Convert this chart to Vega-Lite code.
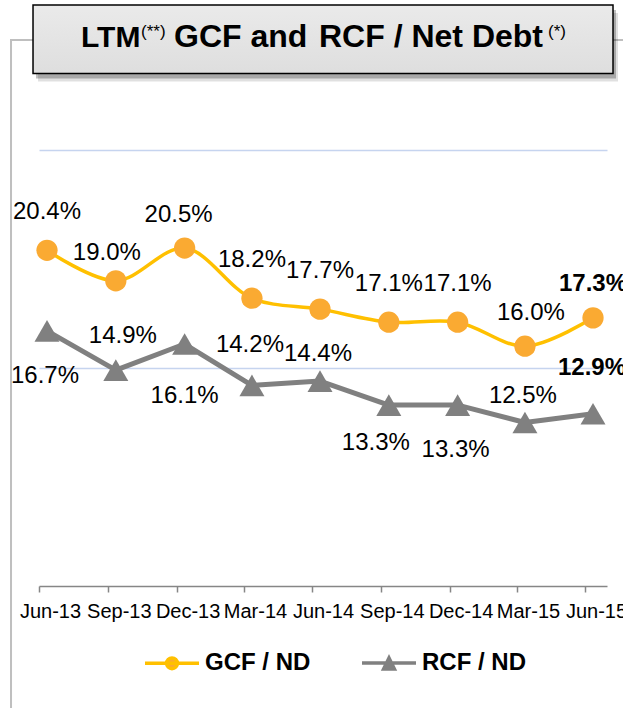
{
  "$schema": "https://vega.github.io/schema/vega-lite/v6.json",
  "width": 568,
  "height": 436,
  "autosize": {"type": "none"},
  "padding": {"left": 39, "top": 150, "right": 16, "bottom": 122},
  "background": "white",
  "config": {"view": {"stroke": null}, "font": "Liberation Sans"},
  "data": {"values": [
    {"period": "Jun-13", "date": "2013-06-30", "gcf": 0.204, "rcf": 0.167},
    {"period": "Sep-13", "date": "2013-09-30", "gcf": 0.190, "rcf": 0.149},
    {"period": "Dec-13", "date": "2013-12-31", "gcf": 0.205, "rcf": 0.161},
    {"period": "Mar-14", "date": "2014-03-31", "gcf": 0.182, "rcf": 0.142},
    {"period": "Jun-14", "date": "2014-06-30", "gcf": 0.177, "rcf": 0.144},
    {"period": "Sep-14", "date": "2014-09-30", "gcf": 0.171, "rcf": 0.133},
    {"period": "Dec-14", "date": "2014-12-31", "gcf": 0.171, "rcf": 0.133},
    {"period": "Mar-15", "date": "2015-03-31", "gcf": 0.160, "rcf": 0.125},
    {"period": "Jun-15", "date": "2015-06-30", "gcf": 0.173, "rcf": 0.129}
  ]},
  "layer": [
    {
      "data": {"values": [{}]},
      "mark": {"type": "rect", "filled": false, "stroke": "#BFBFBF", "strokeWidth": 2},
      "encoding": {
        "x": {"datum": {"year": 2013, "month": 5, "date": 12, "hours": 21, "utc": true}, "type": "temporal", "scale": {"type": "utc", "domain": [{"year": 2013, "month": 6, "date": 19, "hours": 7, "utc": true}, {"year": 2015, "month": 7, "date": 18, "hours": 17, "utc": true}]}},
        "x2": {"datum": {"year": 2015, "month": 9, "date": 30, "utc": true}},
        "y": {"datum": 0.30046, "type": "quantitative", "scale": {"domain": [0.05, 0.25], "nice": false}},
        "y2": {"datum": -0.02}
      }
    },
    {
      "data": {"values": [{}]},
      "mark": {"type": "rect", "fill": "#000000", "opacity": 0.12},
      "encoding": {
        "x": {"datum": {"year": 2013, "month": 6, "date": 18, "utc": true}, "type": "temporal", "scale": {"type": "utc", "domain": [{"year": 2013, "month": 6, "date": 19, "hours": 7, "utc": true}, {"year": 2015, "month": 7, "date": 18, "hours": 17, "utc": true}]}},
        "x2": {"datum": {"year": 2015, "month": 8, "date": 2, "hours": 10, "utc": true}},
        "y": {"datum": 0.31284, "type": "quantitative", "scale": {"domain": [0.05, 0.25], "nice": false}},
        "y2": {"datum": 0.28142}
      }
    },
    {
      "data": {"values": [{}]},
      "mark": {"type": "rect", "fill": "#000000", "opacity": 0.25},
      "encoding": {
        "x": {"datum": {"year": 2013, "month": 6, "date": 15, "hours": 7, "utc": true}, "type": "temporal", "scale": {"type": "utc", "domain": [{"year": 2013, "month": 6, "date": 19, "hours": 7, "utc": true}, {"year": 2015, "month": 7, "date": 18, "hours": 17, "utc": true}]}},
        "x2": {"datum": {"year": 2015, "month": 7, "date": 30, "hours": 18, "utc": true}},
        "y": {"datum": 0.31422, "type": "quantitative", "scale": {"domain": [0.05, 0.25], "nice": false}},
        "y2": {"datum": 0.2828}
      }
    },
    {
      "data": {"values": [{}]},
      "mark": {"type": "rect", "fill": {"gradient": "linear", "x1": 0, "y1": 0, "x2": 0, "y2": 1, "stops": [{"offset": 0, "color": "#EAEAEA"}, {"offset": 1, "color": "#DEDEDE"}]}, "stroke": "#000000", "strokeWidth": 1.5},
      "encoding": {
        "x": {"datum": {"year": 2013, "month": 6, "date": 11, "hours": 7, "utc": true}, "type": "temporal", "scale": {"type": "utc", "domain": [{"year": 2013, "month": 6, "date": 19, "hours": 7, "utc": true}, {"year": 2015, "month": 7, "date": 18, "hours": 17, "utc": true}]}},
        "x2": {"datum": {"year": 2015, "month": 7, "date": 26, "hours": 18, "utc": true}},
        "y": {"datum": 0.31651, "type": "quantitative", "scale": {"domain": [0.05, 0.25], "nice": false}},
        "y2": {"datum": 0.28509}
      }
    },
    {
      "data": {"values": [{}]},
      "mark": {"type": "text", "text": "LTM", "font": "Liberation Sans", "fontSize": 30, "fontWeight": "bold", "align": "left", "baseline": "alphabetic", "dx": -242, "color": "#000000"},
      "encoding": {
        "x": {"datum": {"year": 2014, "month": 7, "date": 4, "utc": true}, "type": "temporal", "scale": {"type": "utc", "domain": [{"year": 2013, "month": 6, "date": 19, "hours": 7, "utc": true}, {"year": 2015, "month": 7, "date": 18, "hours": 17, "utc": true}]}},
        "y": {"datum": 0.29739, "type": "quantitative", "scale": {"domain": [0.05, 0.25], "nice": false}}
      }
    },
    {
      "data": {"values": [{}]},
      "mark": {"type": "text", "text": "(**)", "font": "Liberation Sans", "fontSize": 17, "align": "left", "baseline": "alphabetic", "dx": -182, "dy": -10, "color": "#000000"},
      "encoding": {
        "x": {"datum": {"year": 2014, "month": 7, "date": 4, "utc": true}, "type": "temporal", "scale": {"type": "utc", "domain": [{"year": 2013, "month": 6, "date": 19, "hours": 7, "utc": true}, {"year": 2015, "month": 7, "date": 18, "hours": 17, "utc": true}]}},
        "y": {"datum": 0.29739, "type": "quantitative", "scale": {"domain": [0.05, 0.25], "nice": false}}
      }
    },
    {
      "data": {"values": [{}]},
      "mark": {"type": "text", "text": "GCF and", "font": "Liberation Sans", "fontSize": 32, "fontWeight": "bold", "align": "left", "baseline": "alphabetic", "dx": -149, "color": "#000000"},
      "encoding": {
        "x": {"datum": {"year": 2014, "month": 7, "date": 4, "utc": true}, "type": "temporal", "scale": {"type": "utc", "domain": [{"year": 2013, "month": 6, "date": 19, "hours": 7, "utc": true}, {"year": 2015, "month": 7, "date": 18, "hours": 17, "utc": true}]}},
        "y": {"datum": 0.29739, "type": "quantitative", "scale": {"domain": [0.05, 0.25], "nice": false}}
      }
    },
    {
      "data": {"values": [{}]},
      "mark": {"type": "text", "text": "RCF / Net Debt", "font": "Liberation Sans", "fontSize": 32, "fontWeight": "bold", "align": "left", "baseline": "alphabetic", "dx": -4, "color": "#000000"},
      "encoding": {
        "x": {"datum": {"year": 2014, "month": 7, "date": 4, "utc": true}, "type": "temporal", "scale": {"type": "utc", "domain": [{"year": 2013, "month": 6, "date": 19, "hours": 7, "utc": true}, {"year": 2015, "month": 7, "date": 18, "hours": 17, "utc": true}]}},
        "y": {"datum": 0.29739, "type": "quantitative", "scale": {"domain": [0.05, 0.25], "nice": false}}
      }
    },
    {
      "data": {"values": [{}]},
      "mark": {"type": "text", "text": "(*)", "font": "Liberation Sans", "fontSize": 17, "align": "left", "baseline": "alphabetic", "dx": 225, "dy": -10, "color": "#000000"},
      "encoding": {
        "x": {"datum": {"year": 2014, "month": 7, "date": 4, "utc": true}, "type": "temporal", "scale": {"type": "utc", "domain": [{"year": 2013, "month": 6, "date": 19, "hours": 7, "utc": true}, {"year": 2015, "month": 7, "date": 18, "hours": 17, "utc": true}]}},
        "y": {"datum": 0.29739, "type": "quantitative", "scale": {"domain": [0.05, 0.25], "nice": false}}
      }
    },
    {
      "mark": {"type": "line", "color": "#808080", "strokeWidth": 5, "strokeJoin": "round"},
      "encoding": {
        "x": {"field": "date", "type": "temporal", "scale": {"type": "utc", "domain": [{"year": 2013, "month": 6, "date": 19, "hours": 7, "utc": true}, {"year": 2015, "month": 7, "date": 18, "hours": 17, "utc": true}]},
          "axis": {"title": null, "labelExpr": "utcFormat(datum.value, '%b-%y')", "values": [
            {"year": 2013, "month": 6, "date": 30, "utc": true}, {"year": 2013, "month": 9, "date": 30, "utc": true}, {"year": 2013, "month": 12, "date": 31, "utc": true},
            {"year": 2014, "month": 3, "date": 31, "utc": true}, {"year": 2014, "month": 6, "date": 30, "utc": true}, {"year": 2014, "month": 9, "date": 30, "utc": true},
            {"year": 2014, "month": 12, "date": 31, "utc": true}, {"year": 2015, "month": 3, "date": 31, "utc": true}, {"year": 2015, "month": 6, "date": 30, "utc": true}],
            "grid": false, "labelFont": "Liberation Sans", "labelFontSize": 20, "labelColor": "#000000", "labelOverlap": false, "labelFlush": false, "labelBound": false, "labelAngle": 0,
            "labelPadding": 9, "tickOffset": -8, "labelOffset": 11, "tickSize": 6, "tickColor": "#868686", "tickWidth": 1.5, "domainColor": "#868686", "domainWidth": 1.5}},
        "y": {"field": "rcf", "type": "quantitative", "scale": {"domain": [0.05, 0.25], "nice": false},
          "axis": {"title": null, "values": [0.15, 0.25], "grid": true, "labels": false, "ticks": false, "domain": false, "gridColor": "#C6D4EF", "gridWidth": 1.5}}
      }
    },
    {
      "mark": {"type": "line", "color": "#FFC000", "strokeWidth": 3.5, "interpolate": "catmull-rom"},
      "encoding": {
        "x": {"field": "date", "type": "temporal", "scale": {"type": "utc", "domain": [{"year": 2013, "month": 6, "date": 19, "hours": 7, "utc": true}, {"year": 2015, "month": 7, "date": 18, "hours": 17, "utc": true}]}},
        "y": {"field": "gcf", "type": "quantitative", "scale": {"domain": [0.05, 0.25], "nice": false}}
      }
    },
    {
      "mark": {"type": "point", "shape": "triangle-up", "filled": true, "size": 625, "color": "#808080", "opacity": 1},
      "encoding": {
        "x": {"field": "date", "type": "temporal", "scale": {"type": "utc", "domain": [{"year": 2013, "month": 6, "date": 19, "hours": 7, "utc": true}, {"year": 2015, "month": 7, "date": 18, "hours": 17, "utc": true}]}},
        "y": {"field": "rcf", "type": "quantitative", "scale": {"domain": [0.05, 0.25], "nice": false}}
      }
    },
    {
      "mark": {"type": "point", "shape": "circle", "filled": true, "size": 452, "color": "#FAAA32", "opacity": 1},
      "encoding": {
        "x": {"field": "date", "type": "temporal", "scale": {"type": "utc", "domain": [{"year": 2013, "month": 6, "date": 19, "hours": 7, "utc": true}, {"year": 2015, "month": 7, "date": 18, "hours": 17, "utc": true}]}},
        "y": {"field": "gcf", "type": "quantitative", "scale": {"domain": [0.05, 0.25], "nice": false}}
      }
    },
    {
      "transform": [{"fold": ["gcf", "rcf"], "as": ["series", "value"]}],
      "mark": {"type": "point", "filled": true, "clip": true, "opacity": 1},
      "encoding": {
        "x": {"field": "date", "type": "temporal", "scale": {"type": "utc", "domain": [{"year": 2013, "month": 6, "date": 19, "hours": 7, "utc": true}, {"year": 2015, "month": 7, "date": 18, "hours": 17, "utc": true}]}},
        "y": {"datum": 0, "type": "quantitative", "scale": {"domain": [0.05, 0.25], "nice": false}},
        "fill": {"field": "series", "type": "nominal", "scale": {"domain": ["gcf", "rcf"], "range": ["#FAAA32", "#808080"]},
          "legend": {"orient": "none", "legendX": 104, "legendY": 484, "direction": "horizontal", "title": null,
            "labelFont": "Liberation Sans", "labelFontSize": 24, "labelFontWeight": "bold", "labelColor": "#000000",
            "symbolSize": 2916, "symbolStrokeWidth": 3.5, "labelOffset": 4, "columnPadding": 44, "padding": 0,
            "labelExpr": "datum.label == 'gcf' ? 'GCF / ND' : 'RCF / ND'"}},
        "stroke": {"field": "series", "type": "nominal", "scale": {"domain": ["gcf", "rcf"], "range": ["#FFC000", "#808080"]}},
        "shape": {"field": "series", "type": "nominal", "scale": {"domain": ["gcf", "rcf"], "range": ["M-1,0L1,0M0.2,0A0.2,0.2,0,1,1,-0.2,0A0.2,0.2,0,1,1,0.2,0Z", "M-1,0L1,0M0,-0.19L0.2,0.22L-0.2,0.22Z"]}}
      }
    },
    {
      "transform": [{"filter": {"field": "period", "oneOf": ["Jun-13", "Mar-14", "Jun-14", "Sep-14", "Dec-14"]}}],
      "mark": {"type": "text", "font": "Liberation Sans", "fontSize": 24, "color": "#000000", "align": "center", "baseline": "alphabetic", "dx": 0, "dy": -31},
      "encoding": {
        "x": {"field": "date", "type": "temporal", "scale": {"type": "utc", "domain": [{"year": 2013, "month": 6, "date": 19, "hours": 7, "utc": true}, {"year": 2015, "month": 7, "date": 18, "hours": 17, "utc": true}]}},
        "y": {"field": "gcf", "type": "quantitative", "scale": {"domain": [0.05, 0.25], "nice": false}},
        "text": {"field": "gcf", "type": "quantitative", "format": ".1%"}
      }
    },
    {
      "transform": [{"filter": {"field": "period", "oneOf": ["Sep-13"]}}],
      "mark": {"type": "text", "font": "Liberation Sans", "fontSize": 24, "color": "#000000", "align": "center", "baseline": "alphabetic", "dx": -9, "dy": -21},
      "encoding": {
        "x": {"field": "date", "type": "temporal", "scale": {"type": "utc", "domain": [{"year": 2013, "month": 6, "date": 19, "hours": 7, "utc": true}, {"year": 2015, "month": 7, "date": 18, "hours": 17, "utc": true}]}},
        "y": {"field": "gcf", "type": "quantitative", "scale": {"domain": [0.05, 0.25], "nice": false}},
        "text": {"field": "gcf", "type": "quantitative", "format": ".1%"}
      }
    },
    {
      "transform": [{"filter": {"field": "period", "oneOf": ["Dec-13"]}}],
      "mark": {"type": "text", "font": "Liberation Sans", "fontSize": 24, "color": "#000000", "align": "center", "baseline": "alphabetic", "dx": -6, "dy": -26},
      "encoding": {
        "x": {"field": "date", "type": "temporal", "scale": {"type": "utc", "domain": [{"year": 2013, "month": 6, "date": 19, "hours": 7, "utc": true}, {"year": 2015, "month": 7, "date": 18, "hours": 17, "utc": true}]}},
        "y": {"field": "gcf", "type": "quantitative", "scale": {"domain": [0.05, 0.25], "nice": false}},
        "text": {"field": "gcf", "type": "quantitative", "format": ".1%"}
      }
    },
    {
      "transform": [{"filter": {"field": "period", "oneOf": ["Mar-15"]}}],
      "mark": {"type": "text", "font": "Liberation Sans", "fontSize": 24, "color": "#000000", "align": "center", "baseline": "alphabetic", "dx": 6, "dy": -26},
      "encoding": {
        "x": {"field": "date", "type": "temporal", "scale": {"type": "utc", "domain": [{"year": 2013, "month": 6, "date": 19, "hours": 7, "utc": true}, {"year": 2015, "month": 7, "date": 18, "hours": 17, "utc": true}]}},
        "y": {"field": "gcf", "type": "quantitative", "scale": {"domain": [0.05, 0.25], "nice": false}},
        "text": {"field": "gcf", "type": "quantitative", "format": ".1%"}
      }
    },
    {
      "transform": [{"filter": {"field": "period", "oneOf": ["Jun-15"]}}],
      "mark": {"type": "text", "font": "Liberation Sans", "fontSize": 24, "fontWeight": "bold", "color": "#000000", "align": "center", "baseline": "alphabetic", "dx": 0, "dy": -27},
      "encoding": {
        "x": {"field": "date", "type": "temporal", "scale": {"type": "utc", "domain": [{"year": 2013, "month": 6, "date": 19, "hours": 7, "utc": true}, {"year": 2015, "month": 7, "date": 18, "hours": 17, "utc": true}]}},
        "y": {"field": "gcf", "type": "quantitative", "scale": {"domain": [0.05, 0.25], "nice": false}},
        "text": {"field": "gcf", "type": "quantitative", "format": ".1%"}
      }
    },
    {
      "transform": [{"filter": {"field": "period", "oneOf": ["Sep-13"]}}],
      "mark": {"type": "text", "font": "Liberation Sans", "fontSize": 24, "color": "#000000", "align": "center", "baseline": "alphabetic", "dx": 7, "dy": -27},
      "encoding": {
        "x": {"field": "date", "type": "temporal", "scale": {"type": "utc", "domain": [{"year": 2013, "month": 6, "date": 19, "hours": 7, "utc": true}, {"year": 2015, "month": 7, "date": 18, "hours": 17, "utc": true}]}},
        "y": {"field": "rcf", "type": "quantitative", "scale": {"domain": [0.05, 0.25], "nice": false}},
        "text": {"field": "rcf", "type": "quantitative", "format": ".1%"}
      }
    },
    {
      "transform": [{"filter": {"field": "period", "oneOf": ["Mar-14"]}}],
      "mark": {"type": "text", "font": "Liberation Sans", "fontSize": 24, "color": "#000000", "align": "center", "baseline": "alphabetic", "dx": -2, "dy": -33},
      "encoding": {
        "x": {"field": "date", "type": "temporal", "scale": {"type": "utc", "domain": [{"year": 2013, "month": 6, "date": 19, "hours": 7, "utc": true}, {"year": 2015, "month": 7, "date": 18, "hours": 17, "utc": true}]}},
        "y": {"field": "rcf", "type": "quantitative", "scale": {"domain": [0.05, 0.25], "nice": false}},
        "text": {"field": "rcf", "type": "quantitative", "format": ".1%"}
      }
    },
    {
      "transform": [{"filter": {"field": "period", "oneOf": ["Jun-14", "Mar-15"]}}],
      "mark": {"type": "text", "font": "Liberation Sans", "fontSize": 24, "color": "#000000", "align": "center", "baseline": "alphabetic", "dx": -2, "dy": -20},
      "encoding": {
        "x": {"field": "date", "type": "temporal", "scale": {"type": "utc", "domain": [{"year": 2013, "month": 6, "date": 19, "hours": 7, "utc": true}, {"year": 2015, "month": 7, "date": 18, "hours": 17, "utc": true}]}},
        "y": {"field": "rcf", "type": "quantitative", "scale": {"domain": [0.05, 0.25], "nice": false}},
        "text": {"field": "rcf", "type": "quantitative", "format": ".1%"}
      }
    },
    {
      "transform": [{"filter": {"field": "period", "oneOf": ["Jun-15"]}}],
      "mark": {"type": "text", "font": "Liberation Sans", "fontSize": 24, "fontWeight": "bold", "color": "#000000", "align": "center", "baseline": "alphabetic", "dx": -1, "dy": -39},
      "encoding": {
        "x": {"field": "date", "type": "temporal", "scale": {"type": "utc", "domain": [{"year": 2013, "month": 6, "date": 19, "hours": 7, "utc": true}, {"year": 2015, "month": 7, "date": 18, "hours": 17, "utc": true}]}},
        "y": {"field": "rcf", "type": "quantitative", "scale": {"domain": [0.05, 0.25], "nice": false}},
        "text": {"field": "rcf", "type": "quantitative", "format": ".1%"}
      }
    },
    {
      "transform": [{"filter": {"field": "period", "oneOf": ["Jun-13", "Dec-14"]}}],
      "mark": {"type": "text", "font": "Liberation Sans", "fontSize": 24, "color": "#000000", "align": "center", "baseline": "alphabetic", "dx": -2, "dy": 52},
      "encoding": {
        "x": {"field": "date", "type": "temporal", "scale": {"type": "utc", "domain": [{"year": 2013, "month": 6, "date": 19, "hours": 7, "utc": true}, {"year": 2015, "month": 7, "date": 18, "hours": 17, "utc": true}]}},
        "y": {"field": "rcf", "type": "quantitative", "scale": {"domain": [0.05, 0.25], "nice": false}},
        "text": {"field": "rcf", "type": "quantitative", "format": ".1%"}
      }
    },
    {
      "transform": [{"filter": {"field": "period", "oneOf": ["Dec-13"]}}],
      "mark": {"type": "text", "font": "Liberation Sans", "fontSize": 24, "color": "#000000", "align": "center", "baseline": "alphabetic", "dx": 0, "dy": 59},
      "encoding": {
        "x": {"field": "date", "type": "temporal", "scale": {"type": "utc", "domain": [{"year": 2013, "month": 6, "date": 19, "hours": 7, "utc": true}, {"year": 2015, "month": 7, "date": 18, "hours": 17, "utc": true}]}},
        "y": {"field": "rcf", "type": "quantitative", "scale": {"domain": [0.05, 0.25], "nice": false}},
        "text": {"field": "rcf", "type": "quantitative", "format": ".1%"}
      }
    },
    {
      "transform": [{"filter": {"field": "period", "oneOf": ["Sep-14"]}}],
      "mark": {"type": "text", "font": "Liberation Sans", "fontSize": 24, "color": "#000000", "align": "center", "baseline": "alphabetic", "dx": -13, "dy": 45},
      "encoding": {
        "x": {"field": "date", "type": "temporal", "scale": {"type": "utc", "domain": [{"year": 2013, "month": 6, "date": 19, "hours": 7, "utc": true}, {"year": 2015, "month": 7, "date": 18, "hours": 17, "utc": true}]}},
        "y": {"field": "rcf", "type": "quantitative", "scale": {"domain": [0.05, 0.25], "nice": false}},
        "text": {"field": "rcf", "type": "quantitative", "format": ".1%"}
      }
    }
  ]
}
